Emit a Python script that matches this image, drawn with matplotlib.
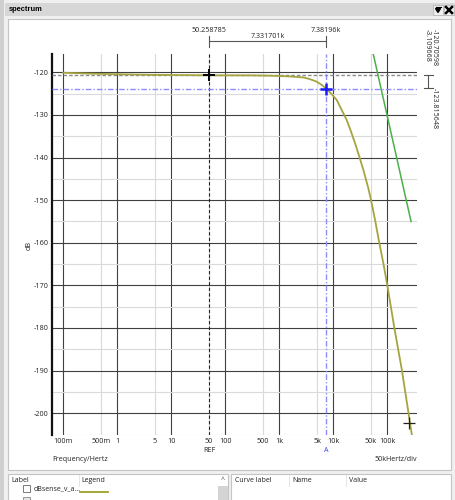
import matplotlib
matplotlib.use("Agg")
import matplotlib.pyplot as plt
from matplotlib.patches import Rectangle
from matplotlib.ticker import FixedLocator, NullFormatter

plt.rcParams['font.family'] = ['Open Sans', 'DejaVu Sans']

# ---------------- data ----------------
freq_olive = [0.1, 0.3, 1, 5, 50.258785, 300, 700, 1500, 2780, 3700, 4930,
              6000, 7381.96, 9000, 11600, 14000, 17700, 21000, 25200, 30000,
              36000, 44500, 50000, 60000, 71000, 85000, 100000, 135000,
              185000, 252000, 300000]
db_olive = [-120.1, -120.3, -120.45, -120.6, -120.70598, -120.72, -120.8,
            -120.95, -121.2, -121.6, -122.2, -122.9, -123.815648, -124.9,
            -126.5, -128.6, -131.2, -133.7, -136.6, -139.6, -142.9, -147.2,
            -150.0, -155.0, -160.0, -165.0, -170.0, -180.0, -189.7, -200.7,
            -207.0]
freq_green = [54900, 275000]
db_green = [-115.7, -155.0]

major_x = [0.1, 1, 10, 100, 1e3, 1e4, 1e5]
major_x_labels = ['100m', '1', '10', '100', '1k', '10k', '100k']
minor_x = [0.5, 5, 50, 500, 5e3, 5e4]
minor_x_labels = ['500m', '5', '50', '500', '5k', '50k']
major_y = [-200, -190, -180, -170, -160, -150, -140, -130, -120]
minor_y = [-205, -195, -185, -175, -165, -155, -145, -135, -125]

ref_f, ref_db = 50.258785, -120.70598
a_f, a_db = 7381.96, -123.815648
extra_f, extra_db = 252000, -202.2

W, H = 455, 500
fig = plt.figure(figsize=(W / 100, H / 100), dpi=100)
fig.patch.set_facecolor('#f0f0f0')

# ---------------- window frame (pixel coords) ----------------
bg = fig.add_axes([0, 0, 1, 1], zorder=0)
bg.set_xlim(0, W)
bg.set_ylim(H, 0)
bg.axis('off')

def rect(x0, y0, x1, y1, fc, ec='none', lw=0.8):
    bg.add_patch(Rectangle((x0, y0), x1 - x0, y1 - y0, facecolor=fc,
                           edgecolor=ec, linewidth=lw))

rect(0, 0, 4, H, '#cfcfcf')
rect(5, 3, W, 15.5, '#d7d7d7')
bg.text(9, 9.5, 'spectrum', fontsize=5.4, fontweight='bold', va='center',
        ha='left', family=['Liberation Sans', 'DejaVu Sans'])
# title buttons
rect(433, 5, 443, 15, '#eeeeee', '#b0b0b0', 0.5)
rect(444, 5, 454, 15, '#eeeeee', '#b0b0b0', 0.5)
bg.fill([435.5, 440.5, 438], [8.5, 8.5, 12.5], color='black')
bg.plot([435.5, 440.5], [7, 7], color='black', lw=0.8)
bg.plot([446, 452], [7, 13], color='black', lw=1.8)
bg.plot([446, 452], [13, 7], color='black', lw=1.8)

# plot panel
rect(8, 19, 451, 470, 'white', '#c4c4c4', 0.8)
# bottom panels
rect(8, 474, 228, 503, 'white', '#c4c4c4', 0.8)
rect(231, 474, 451, 503, 'white', '#c4c4c4', 0.8)
rect(218, 486, 227.5, 503, '#d4d4d4')
bg.text(222.5, 481, '^', fontsize=5, ha='center', va='center', color='#444444')
bg.plot([79, 79], [475, 486], color='#e0e0e0', lw=0.6)
bg.plot([289, 289], [475, 486], color='#e0e0e0', lw=0.6)
bg.plot([346, 346], [475, 486], color='#e0e0e0', lw=0.6)
small = dict(fontsize=5.0, va='center', ha='left', color='#222222')
bg.text(11, 481, 'Label', **small)
bg.text(81, 481, 'Legend', **small)
bg.text(235, 481, 'Curve label', **small)
bg.text(292, 481, 'Name', **small)
bg.text(349, 481, 'Value', **small)
rect(22.5, 484.5, 30, 492, 'white', '#666666', 0.6)
rect(22.5, 497, 30, 503, '#e6e6e6', '#888888', 0.6)
bg.text(34, 488.5, 'dBsense_v_a...', **small)
bg.plot([80, 108], [491.5, 491.5], color='#a0a028', lw=1.3)

# annotations around plot
txt = dict(fontsize=5.1, color='#222222')
bg.text(209, 30, '50.258785', ha='center', va='center', **txt)
bg.text(326, 30, '7.38196k', ha='center', va='center', **txt)
bg.text(267.5, 36.5, '7.331701k', ha='center', va='center', **txt)
bg.plot([209, 326], [41, 41], color='#555555', lw=0.8)
bg.plot([209, 209], [36, 47], color='#555555', lw=0.8)
bg.plot([326, 326], [36, 47], color='#555555', lw=0.8)

bg.plot([428, 428], [74.5, 88.3], color='#555555', lw=0.8)
bg.plot([423.5, 433], [74.5, 74.5], color='#555555', lw=0.8)
bg.plot([423.5, 433], [88.3, 88.3], color='#555555', lw=0.8)
bg.text(427.5, 29, '-3.109668', rotation=270, ha='center', va='top', **txt)
bg.text(434.5, 29, '-120.70598', rotation=270, ha='center', va='top', **txt)
bg.text(434.5, 88, '-123.815648', rotation=270, ha='center', va='top', **txt)

bg.text(209, 451, 'REF', ha='center', va='center', **txt)
bg.text(326, 451, 'A', ha='center', va='center', fontsize=5.1, color='#3a3aff')
bg.text(52, 459.5, 'Frequency/Hertz', ha='left', va='center', **txt)
bg.text(416.5, 459.5, '50kHertz/div', ha='right', va='center', **txt)
bg.text(29, 245, 'dB', rotation=90, ha='center', va='center', **txt)

# ---------------- main axes ----------------
ax = fig.add_axes([52 / W, 1 - 434.5 / H, (416.7 - 52) / W, (434.5 - 54) / H],
                  zorder=1)
ax.set_facecolor('none')
ax.set_xscale('log')
ax.set_xlim(0.0618, 350000)
ax.set_ylim(-205, -115.7)

ax.xaxis.set_major_locator(FixedLocator(major_x))
ax.xaxis.set_minor_locator(FixedLocator(minor_x))
ax.set_xticklabels(major_x_labels)
ax.set_xticklabels(minor_x_labels, minor=True)
ax.yaxis.set_major_locator(FixedLocator(major_y))
ax.yaxis.set_minor_locator(FixedLocator(minor_y))
ax.yaxis.set_minor_formatter(NullFormatter())
ax.set_yticklabels([str(v) for v in major_y])

ax.tick_params(axis='both', which='both', length=0, labelsize=5.2,
               labelcolor='#222222')
ax.tick_params(axis='x', which='both', pad=2.4)
ax.tick_params(axis='y', which='both', pad=2.6)

ax.grid(which='major', color='#404040', lw=0.8)
ax.grid(which='minor', color='#dadada', lw=0.8)
ax.set_axisbelow(True)
for s in ['top', 'right', 'bottom']:
    ax.spines[s].set_visible(False)
ax.spines['left'].set_color('#111111')
ax.spines['left'].set_linewidth(1.6)

# cursors
ax.axvline(ref_f, color='#222222', lw=0.8, ls=(0, (3, 2)), zorder=3)
ax.axhline(ref_db, color='#8a8a8a', lw=1.0, ls=(0, (2.5, 1.5)), zorder=3)
ax.axvline(a_f, color='#8c8cff', lw=1.0, ls=(0, (4, 1.5, 1, 1.5)), zorder=3)
ax.axhline(a_db, color='#8c8cff', lw=1.0, ls=(0, (4, 1.5, 1, 1.5)), zorder=3)

# curves
ax.plot(freq_olive, db_olive, color='#a6a440', lw=1.3, zorder=4)
ax.plot(freq_green, db_green, color='#4caf4c', lw=1.1, zorder=4)

# markers
ax.plot([ref_f], [ref_db], marker='+', ms=8, mew=1.4, color='black', zorder=5)
ax.plot([a_f], [a_db], marker='+', ms=9, mew=1.8, color='#1a1aff', zorder=5)
ax.plot([extra_f], [extra_db], marker='+', ms=8, mew=0.9, color='#222222',
        zorder=5)

fig.savefig('out.png', dpi=100, facecolor=fig.get_facecolor())
